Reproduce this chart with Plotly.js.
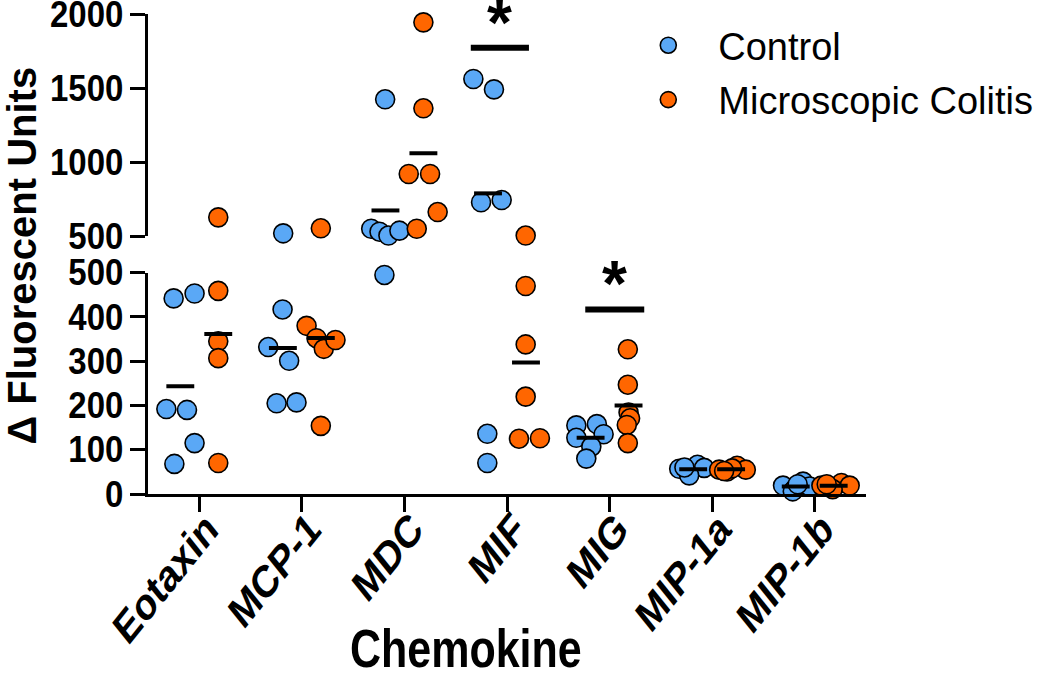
<!DOCTYPE html>
<html>
<head>
<meta charset="utf-8">
<script src="https://cdn.plot.ly/plotly-3.0.1.min.js"></script>
<style>html,body{margin:0;padding:0;background:#fff;}#chart{width:1050px;height:682px;}</style>
</head>
<body>
<div id="chart"></div>
<script>
// ---- data ----
const categories = ['Eotaxin', 'MCP-1', 'MDC', 'MIF', 'MIG', 'MIP-1a', 'MIP-1b'];
const seriesNames = ['Control', 'Microscopic Colitis'];
const controlValues = [
  [442, 453, 192, 190, 115, 68],
  [518, 417, 332, 301, 205, 207],
  [1424, 549, 529, 503, 536, 495],
  [1561, 1491, 728, 743, 136, 70],
  [155, 158, 127, 135, 107, 80],
  [57, 51, 66, 59, 42, 60],
  [19, 11, 28, 17, 6, 22]
];
const colitisValues = [
  [626, 459, 345, 307, 70],
  [552, 380, 352, 328, 348, 154],
  [1944, 1363, 919, 919, 662, 549],
  [503, 470, 338, 220, 125, 126],
  [327, 247, 184, 171, 156, 115],
  [55, 51, 64, 55, 58, 52],
  [19, 16, 25, 19, 11, 22]
];
const sigCategories = ['MIF', 'MIG'];
const sigLevels = [1772, 417];
const lowerTicks = [0, 100, 200, 300, 400, 500];
const upperTicks = [500, 1000, 1500, 2000];
const axisBreak = 500;
const axisTop = 2000;

// ---- layout details (horizontal scatter jitter, in category units) ----
const controlJitter = [
  [-0.25, -0.046, -0.321, -0.12, -0.046, -0.243],
  [-0.182, -0.188, -0.328, -0.124, -0.246, -0.052],
  [-0.188, -0.324, -0.243, -0.156, -0.049, -0.195],
  [-0.328, -0.127, -0.253, -0.052, -0.192, -0.192],
  [-0.324, -0.124, -0.324, -0.058, -0.178, -0.227],
  [-0.321, -0.207, -0.143, -0.078, -0.224, -0.27],
  [-0.309, -0.195, -0.114, -0.049, -0.214, -0.166]
];
const colitisJitter = [
  [0.185, 0.185, 0.185, 0.185, 0.185],
  [0.185, 0.046, 0.143, 0.214, 0.328, 0.185],
  [0.185, 0.185, 0.042, 0.25, 0.324, 0.12],
  [0.182, 0.182, 0.182, 0.182, 0.117, 0.321],
  [0.178, 0.178, 0.185, 0.2, 0.168, 0.178],
  [0.068, 0.146, 0.243, 0.328, 0.195, 0.117],
  [0.065, 0.163, 0.26, 0.341, 0.175, 0.117]
];
const sigSpan = [[-0.353, 0.214], [-0.237, 0.338]];
const groupCenter = [-0.185, 0.185];
const meanHalfWidth = 0.136;

const colors = ['#5AA8F6', '#FF6600'];
const FONT = 'Liberation Sans, Arial, Helvetica, sans-serif';

const traces = [];
const shapes = [];
[controlValues, colitisValues].forEach((vals, g) => {
  const jit = g === 0 ? controlJitter : colitisJitter;
  const lo = {x: [], y: []}, hi = {x: [], y: []};
  vals.forEach((arr, ci) => {
    arr.forEach((v, k) => {
      const tgt = v >= axisBreak ? hi : lo;
      tgt.x.push(ci + jit[ci][k]);
      tgt.y.push(v);
    });
    const mean = arr.reduce((a, b) => a + b, 0) / arr.length;
    shapes.push({
      type: 'line', xref: 'x', yref: mean >= axisBreak ? 'y2' : 'y',
      x0: ci + groupCenter[g] - meanHalfWidth, x1: ci + groupCenter[g] + meanHalfWidth,
      y0: mean, y1: mean, line: {color: '#000', width: 4}, layer: 'above'
    });
  });
  const marker = {color: colors[g], size: 19, line: {color: '#000', width: 1.6}};
  traces.push({type: 'scatter', mode: 'markers', name: seriesNames[g], x: lo.x, y: lo.y,
    xaxis: 'x', yaxis: 'y', marker: marker, cliponaxis: false, legendgroup: 'g' + g, showlegend: true});
  traces.push({type: 'scatter', mode: 'markers', name: seriesNames[g], x: hi.x, y: hi.y,
    xaxis: 'x', yaxis: 'y2', marker: marker, cliponaxis: false, legendgroup: 'g' + g, showlegend: false});
});

const annotations = [];
sigCategories.forEach((c, i) => {
  const ci = categories.indexOf(c);
  const yr = sigLevels[i] >= axisBreak ? 'y2' : 'y';
  shapes.push({type: 'line', xref: 'x', yref: yr, x0: ci + sigSpan[i][0], x1: ci + sigSpan[i][1],
    y0: sigLevels[i], y1: sigLevels[i], line: {color: '#000', width: 6}, layer: 'above'});
  annotations.push({xref: 'x', yref: yr, x: ci + (sigSpan[i][0] + sigSpan[i][1]) / 2, y: sigLevels[i],
    text: '*', showarrow: false, yanchor: 'bottom', yshift: -13,
    font: {family: FONT, size: 64, weight: 'bold', color: '#000'}});
});
annotations.push({xref: 'paper', yref: 'paper', x: 0.443, y: -0.321, text: 'Chemokine', showarrow: false,
  xanchor: 'center', yanchor: 'middle', font: {family: FONT, size: 43, weight: 'bold', color: '#000'}});
annotations.push({xref: 'paper', yref: 'paper', x: -0.176, y: 0.496, text: '\u0394 Fluorescent Units',
  textangle: -90, showarrow: false, xanchor: 'center', yanchor: 'middle',
  font: {family: FONT, size: 40, weight: 'bold', color: '#000'}});

const axisCommon = {
  showline: true, linecolor: '#000', linewidth: 3, ticks: 'outside', ticklen: 15, tickwidth: 3,
  tickcolor: '#000', showgrid: false, zeroline: false, fixedrange: true, ticklabeloverflow: 'allow'
};
const layout = {
  width: 1050, height: 682,
  margin: {l: 148, r: 182, t: 14, b: 188, pad: 0},
  paper_bgcolor: '#fff', plot_bgcolor: 'rgba(0,0,0,0)',
  showlegend: true,
  legend: {x: 0.655, y: 1.0, xanchor: 'left', yanchor: 'top', bgcolor: 'rgba(0,0,0,0)',
    font: {family: FONT, size: 38, color: '#000'}, itemwidth: 90, tracegroupgap: 2},
  xaxis: Object.assign({}, axisCommon, {
    domain: [0, 1], anchor: 'y', range: [-0.5, 6.5],
    tickvals: categories.map((c, i) => i), ticktext: categories, tickangle: -45,
    ticklabelstandoff: -24, ticklabelshift: 8,
    tickfont: {family: FONT, size: 36, weight: 'bold', color: '#000'}
  }),
  yaxis: Object.assign({}, axisCommon, {
    domain: [0, 0.461], anchor: 'x', range: [0, axisBreak], tickvals: lowerTicks,
    tickfont: {family: FONT, size: 33, weight: 'bold', color: '#000'}
  }),
  yaxis2: Object.assign({}, axisCommon, {
    domain: [0.5375, 1], anchor: 'x', range: [axisBreak, axisTop + 0.5], tickvals: upperTicks,
    tickfont: {family: FONT, size: 33, weight: 'bold', color: '#000'}
  }),
  shapes: shapes,
  annotations: annotations
};

// stretch a text element vertically (in screen space) about an anchor point
function stretchText(el, k, mode) {
  const svg = el.ownerSVGElement;
  const r = el.getBoundingClientRect();
  const sx = mode === 'topright' ? r.right : (r.left + r.right) / 2;
  const sy = mode === 'topright' ? r.top : (r.top + r.bottom) / 2;
  const C = el.parentNode.getScreenCTM();
  const S = svg.createSVGMatrix().translate(sx, sy).scaleNonUniform(1, k).translate(-sx, -sy);
  const X = C.inverse().multiply(S).multiply(C);
  const old = el.getAttribute('transform') || '';
  el.setAttribute('transform', `matrix(${X.a},${X.b},${X.c},${X.d},${X.e},${X.f}) ${old}`);
}

Plotly.newPlot('chart', traces, layout, {displayModeBar: false, staticPlot: true}).then(gd => {
  gd.querySelectorAll('.xtick text').forEach(el => stretchText(el, 1.25, 'topright'));
  gd.querySelectorAll('.ytick text, .y2tick text').forEach(el => stretchText(el, 1.1, 'center'));
  gd.querySelectorAll('.annotation-text').forEach(el => {
    if (el.textContent === 'Chemokine') stretchText(el, 1.25, 'center');
  });
});
</script>
</body>
</html>
